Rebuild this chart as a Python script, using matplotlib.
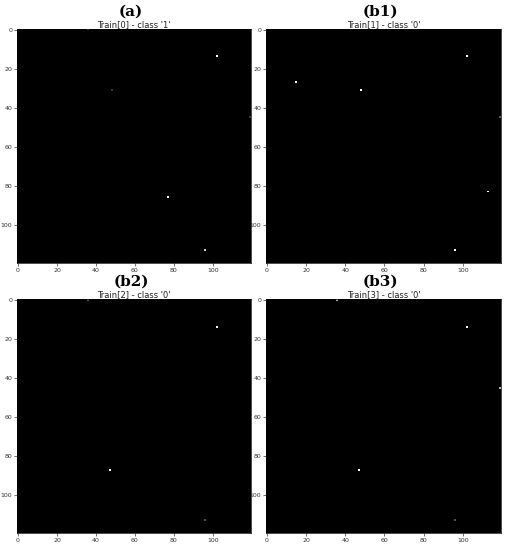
import numpy as np
import matplotlib
matplotlib.use("Agg")
import matplotlib.pyplot as plt

# ---- data ----
img_size = 120
panel_labels = ["(a)", "(b1)", "(b2)", "(b3)"]
panel_titles = ["Train[0] - class '1'", "Train[1] - class '0'",
                "Train[2] - class '0'", "Train[3] - class '0'"]

a_cols = [36, 102, 48, 77, 96, 119]
a_rows = [0, 14, 31, 86, 113, 45]
a_vals = [200, 255, 60, 255, 200, 60]

b1_cols = [15, 48, 102, 119, 113, 96]
b1_rows = [27, 31, 14, 45, 83, 113]
b1_vals = [255, 255, 255, 90, 255, 255]

b2_cols = [36, 102, 47, 96]
b2_rows = [0, 14, 87, 113]
b2_vals = [90, 255, 255, 80]

b3_cols = [36, 102, 119, 47, 96]
b3_rows = [0, 14, 45, 87, 113]
b3_vals = [180, 255, 180, 255, 80]

panels = [(a_cols, a_rows, a_vals), (b1_cols, b1_rows, b1_vals),
          (b2_cols, b2_rows, b2_vals), (b3_cols, b3_rows, b3_vals)]

xticks = [0, 20, 40, 60, 80, 100]
yticks = [0, 20, 40, 60, 80, 100]

# ---- layout ----
W, H = 509, 550
fig = plt.figure(figsize=(W / 100, H / 100), dpi=100)
fig.patch.set_facecolor("white")

# pixel boxes: left, top, width, height
boxes = [(17, 29, 234, 234), (266, 29, 235, 234),
         (17, 299, 234, 234), (266, 299, 235, 234)]

for (cols, rows, vals), box, lab, ttl in zip(panels, boxes, panel_labels, panel_titles):
    l, t, w, h = box
    ax = fig.add_axes([l / W, 1 - (t + h) / H, w / W, h / H])
    img = np.zeros((img_size, img_size))
    for c, r, v in zip(cols, rows, vals):
        img[r, c] = v
    ax.imshow(img, cmap="gray", vmin=0, vmax=255, interpolation="nearest",
              aspect="auto")
    ax.set_xticks(xticks)
    ax.set_yticks(yticks)
    ax.tick_params(labelsize=4.5, length=2, width=0.5, pad=1.5, colors="#333333")
    for s in ax.spines.values():
        s.set_linewidth(0.5)
    ax.set_title(ttl, fontsize=6, pad=1.5, color="#222222")
    cx = (l + w / 2) / W
    fig.text(cx - 3 / W, 1 - (t - 17) / H, lab, ha="center", va="center",
             fontsize=11, fontweight="bold", family="DejaVu Serif")

fig.savefig("out.png", dpi=100)
